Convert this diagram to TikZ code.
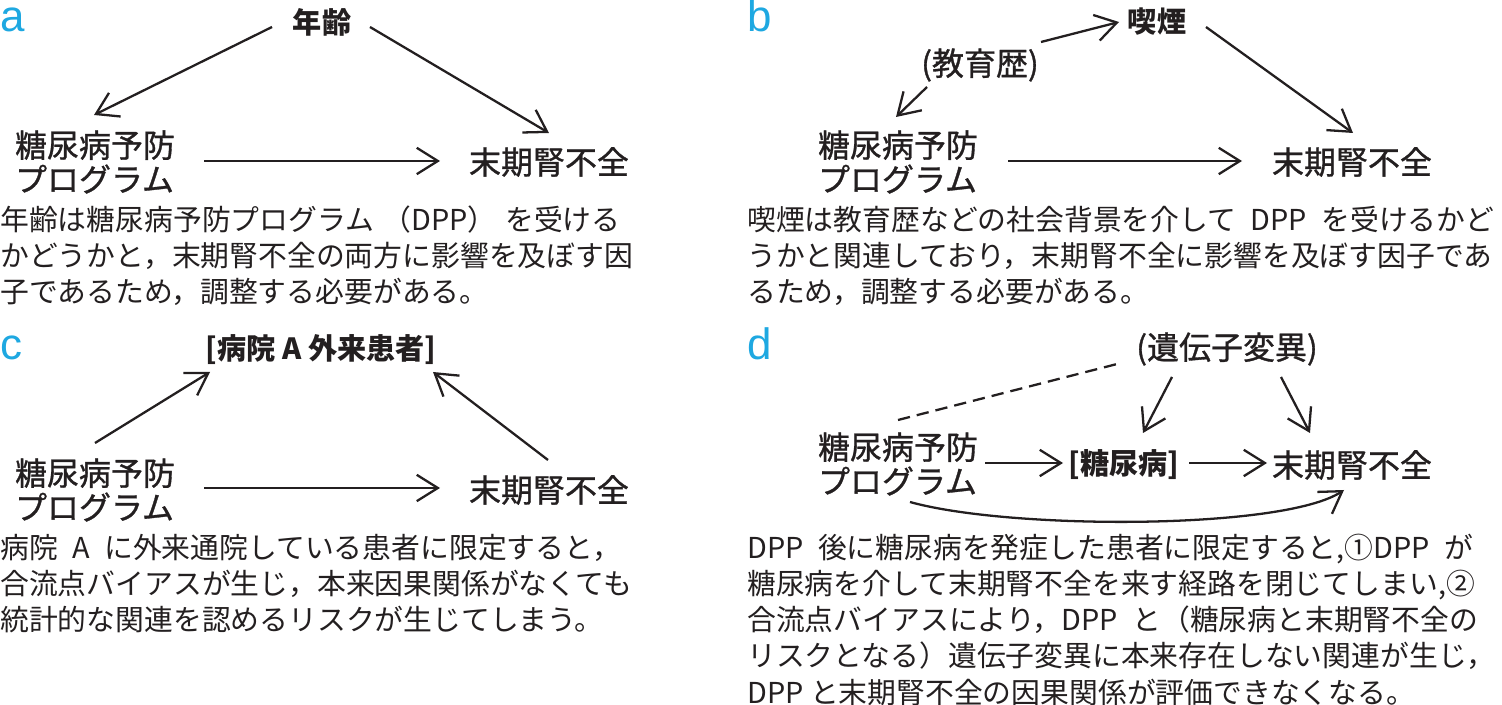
\documentclass[tikz,border=0pt]{standalone}
\usepackage{fontspec}
\setmainfont{Noto Sans CJK JP}
\newfontfamily\latinsans{Liberation Sans}
\newfontfamily\jpmedium[FakeBold=1]{Noto Sans CJK JP}
\usepackage{tikz}
\usetikzlibrary{arrows.meta,positioning}
\definecolor{panelcyan}{HTML}{1EA8E1}
\definecolor{inkgray}{HTML}{231F20}

\begin{document}
\begin{tikzpicture}[x=0.02cm, y=-0.02cm,
  factor/.style={inner sep=0pt, align=left, font=\jpmedium\fontsize{18.2}{19.4}\selectfont, text=inkgray},
  keyfactor/.style={inner sep=0pt, align=center, font=\fontsize{16.6}{19}\selectfont\bfseries, text=inkgray},
  caption/.style={inner sep=0pt, anchor=west, align=left, font=\fontsize{16.4}{20.5}\selectfont, text=inkgray},
  panel/.style={inner sep=0pt, anchor=base west, font=\latinsans\fontsize{25}{25}\selectfont, text=panelcyan},
  arr/.style={-{Straight Barb[length=12pt,width=15pt]}, line width=1.3pt, inkgray},
  assoc/.style={dash pattern=on 7pt off 4pt, line width=1.3pt, inkgray}
]
  \useasboundingbox (0,0) rectangle (1502,705);

  \node[panel] (pa) at (0,32) {a};
  \node[keyfactor] (ageA) at (322,22) {年齢};
  \node[factor] (dppA) at (95,162) {糖尿病予防\\プログラム};
  \node[factor] (esrdA) at (549,162) {末期腎不全};
  \node[caption] (txtA) at (0,256) {年齢は糖尿病予防プログラム\hspace{.3em}（DPP）\hspace{.3em}を受ける\\かどうかと，末期腎不全の両方に影響を及ぼす因\\子であるため，調整する必要がある。};

  \draw[arr] ([shift={(-50,5)}]ageA.center) -- ([shift={(-1,-47)}]dppA.center);
  \draw[arr] ([shift={(48,5)}]ageA.center) -- ([shift={(0,-29)}]esrdA.center);
  \draw[arr] ([shift={(109,-1)}]dppA.center) -- ([shift={(-109,-1)}]esrdA.center);

  \node[panel] (pb) at (747,32) {b};
  \node[keyfactor] (smokeB) at (1157,22) {喫煙};
  \node[factor] (eduB) at (980,65) {(教育歴)};
  \node[factor] (dppB) at (898,162) {糖尿病予防\\プログラム};
  \node[factor] (esrdB) at (1352,162) {末期腎不全};
  \node[caption] (txtB) at (747,256) {喫煙は教育歴などの社会背景を介して\enspace DPP\enspace を受けるかど\\うかと関連しており，末期腎不全に影響を及ぼす因子であ\\るため，調整する必要がある。};

  \draw[arr] ([shift={(61,-23)}]eduB.center) -- ([shift={(-38,0)}]smokeB.center);
  \draw[arr] ([shift={(-53,22)}]eduB.center) -- ([shift={(-2,-45)}]dppB.center);
  \draw[arr] ([shift={(49,5)}]smokeB.center) -- ([shift={(1,-29)}]esrdB.center);
  \draw[arr] ([shift={(110,-1)}]dppB.center) -- ([shift={(-110,-1)}]esrdB.center);

  \node[panel] (pc) at (0,360) {c};
  \node[keyfactor] (hospC) at (321,350) {[病院 A 外来患者]};
  \node[factor] (dppC) at (95,490) {糖尿病予防\\プログラム};
  \node[factor] (esrdC) at (549,490) {末期腎不全};
  \node[caption] (txtC) at (0,584) {病院\enspace A\enspace に外来通院している患者に限定すると，\\合流点バイアスが生じ，本来因果関係がなくても\\統計的な関連を認めるリスクが生じてしまう。};

  \draw[arr] ([shift={(0,-47)}]dppC.center) -- ([shift={(-111,22)}]hospC.center);
  \draw[arr] ([shift={(-1,-30)}]esrdC.center) -- ([shift={(112,22)}]hospC.center);
  \draw[arr] ([shift={(109,-2)}]dppC.center) -- ([shift={(-109,-2)}]esrdC.center);

  \node[panel] (pd) at (747,360) {d};
  \node[factor] (geneD) at (1227,349) {(遺伝子変異)};
  \node[factor] (dppD) at (898,464) {糖尿病予防\\プログラム};
  \node[keyfactor] (dmD) at (1124,465) {[糖尿病]};
  \node[factor] (esrdD) at (1352,465) {末期腎不全};
  \node[caption] (txtD) at (747,620) {DPP\enspace 後に糖尿病を発症した患者に限定すると,①DPP\enspace が\\糖尿病を介して末期腎不全を来す経路を閉じてしまい,②\\合流点バイアスにより，DPP\enspace と（糖尿病と末期腎不全の\\リスクとなる）遺伝子変異に本来存在しない関連が生じ，\\DPP と末期腎不全の因果関係が評価できなくなる。};

  \draw[assoc] ([shift={(0,-44)}]dppD.center) -- ([shift={(-106,14)}]geneD.center);
  \draw[arr] ([shift={(-55,28)}]geneD.center) -- ([shift={(19,-32)}]dmD.center);
  \draw[arr] ([shift={(54,28)}]geneD.center) -- ([shift={(-42,-32)}]esrdD.center);
  \draw[arr] ([shift={(87,-1)}]dppD.center) -- ([shift={(-61,-2)}]dmD.center);
  \draw[arr] ([shift={(65,-2)}]dmD.center) -- ([shift={(-85,-2)}]esrdD.center);
  \draw[arr] ([shift={(12,38)}]dppD.center) .. controls ([shift={(112,66)}]dppD.center) and ([shift={(-68,65)}]esrdD.center) .. ([shift={(-8,25)}]esrdD.center);
\end{tikzpicture}
\end{document}
